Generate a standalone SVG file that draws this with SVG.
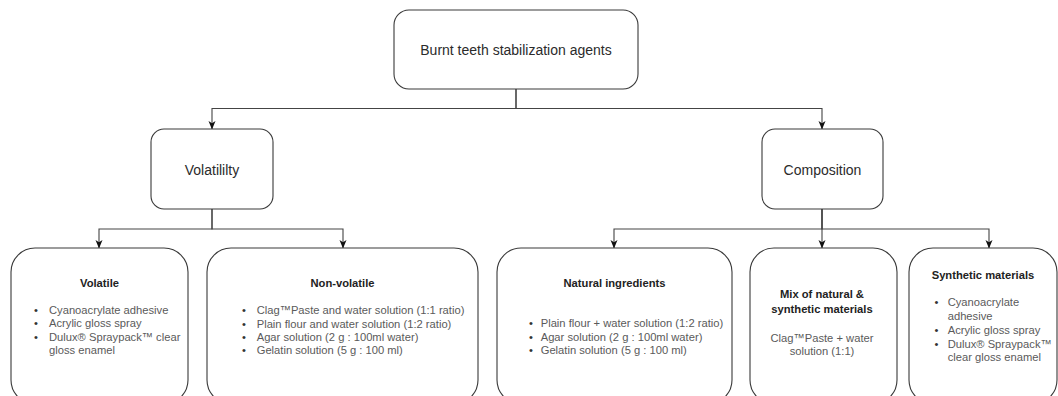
<svg xmlns="http://www.w3.org/2000/svg" width="1058" height="396" viewBox="0 0 1058 396">
<defs>
<marker id="arr" markerWidth="9" markerHeight="8" refX="8" refY="4" orient="auto" markerUnits="userSpaceOnUse">
<path d="M0,0.5 L8.5,4 L0,7.5 L2.2,4 z" fill="#111"/>
</marker>
<style>
.box{fill:#fff;stroke:#3a3a3a;stroke-width:1.1}
.lbl{font-family:"Liberation Sans",Arial,sans-serif;font-size:14px;fill:#2b2b2b;text-anchor:middle}
.ttl{font-family:"Liberation Sans",Arial,sans-serif;font-size:11.2px;font-weight:bold;fill:#222;text-anchor:middle}
.itm{font-family:"Liberation Sans",Arial,sans-serif;font-size:11.2px;fill:#5a5a5a}
.itc{font-family:"Liberation Sans",Arial,sans-serif;font-size:11.2px;fill:#5a5a5a;text-anchor:middle}
.bul{font-family:"Liberation Sans",Arial,sans-serif;font-size:11.2px;fill:#333}
.con{fill:none;stroke:#444;stroke-width:1.1;marker-end:url(#arr)}
</style>
</defs>
<g id="connectors">
<path class="con" d="M516,89 V108.5 H212 V129"/>
<path class="con" d="M516,89 V108.5 H822 V129"/>
<path class="con" d="M212,209 V229 H99 V248"/>
<path class="con" d="M212,209 V229 H343 V248"/>
<path class="con" d="M822,209 V229 H614 V248"/>
<path class="con" d="M822,209 V248"/>
<path class="con" d="M822,209 V229 H989 V248"/>
</g>
<g id="root">
<rect class="box" x="394" y="10" width="244" height="79" rx="15"/>
<text class="lbl" x="516" y="55">Burnt teeth stabilization agents</text>
</g>
<g id="volatility">
<rect class="box" x="151" y="129" width="122" height="80" rx="13"/>
<text class="lbl" x="212" y="175">Volatililty</text>
</g>
<g id="composition">
<rect class="box" x="762" y="129" width="121" height="80" rx="13"/>
<text class="lbl" x="822.5" y="175">Composition</text>
</g>
<g id="volatile">
<rect class="box" x="11" y="248" width="177" height="156" rx="24"/>
<text class="ttl" x="99.5" y="286.7">Volatile</text>
<text class="bul" x="34" y="313.8">•</text><text class="itm" x="49" y="313.8">Cyanoacrylate adhesive</text>
<text class="bul" x="34" y="327.2">•</text><text class="itm" x="49" y="327.2">Acrylic gloss spray</text>
<text class="bul" x="34" y="340.6">•</text><text class="itm" x="49" y="340.6">Dulux® Spraypack™ clear</text>
<text class="itm" x="49" y="354">gloss enamel</text>
</g>
<g id="non-volatile">
<rect class="box" x="207" y="248" width="271" height="156" rx="24"/>
<text class="ttl" x="342.5" y="286.7">Non-volatile</text>
<text class="bul" x="242" y="314.3">•</text><text class="itm" x="256.7" y="314.3">Clag™Paste and water solution (1:1 ratio)</text>
<text class="bul" x="242" y="327.6">•</text><text class="itm" x="256.7" y="327.6">Plain flour and water solution (1:2 ratio)</text>
<text class="bul" x="242" y="341">•</text><text class="itm" x="256.7" y="341">Agar solution (2 g : 100ml water)</text>
<text class="bul" x="242" y="354.3">•</text><text class="itm" x="256.7" y="354.3">Gelatin solution (5 g : 100 ml)</text>
</g>
<g id="natural">
<rect class="box" x="497" y="248" width="235" height="156" rx="24"/>
<text class="ttl" x="614.5" y="286.7">Natural ingredients</text>
<text class="bul" x="529" y="326.7">•</text><text class="itm" x="540.7" y="326.7">Plain flour + water solution (1:2 ratio)</text>
<text class="bul" x="529" y="340.5">•</text><text class="itm" x="540.7" y="340.5">Agar solution (2 g : 100ml water)</text>
<text class="bul" x="529" y="354.2">•</text><text class="itm" x="540.7" y="354.2">Gelatin solution (5 g : 100 ml)</text>
</g>
<g id="mix">
<rect class="box" x="750" y="248" width="147" height="156" rx="24"/>
<text class="ttl" x="822" y="297.5">Mix of natural &amp;</text>
<text class="ttl" x="822" y="313.2">synthetic materials</text>
<text class="itc" x="822" y="342">Clag™Paste + water</text>
<text class="itc" x="822" y="355.3">solution (1:1)</text>
</g>
<g id="synthetic">
<rect class="box" x="909" y="248" width="148" height="156" rx="24"/>
<text class="ttl" x="983" y="279.3">Synthetic materials</text>
<text class="bul" x="934.5" y="306.2">•</text><text class="itm" x="947.7" y="306.2">Cyanoacrylate</text>
<text class="itm" x="947.7" y="319.8">adhesive</text>
<text class="bul" x="934.5" y="334">•</text><text class="itm" x="947.7" y="334">Acrylic gloss spray</text>
<text class="bul" x="934.5" y="347.6">•</text><text class="itm" x="947.7" y="347.6">Dulux® Spraypack™</text>
<text class="itm" x="947.7" y="361.4">clear gloss enamel</text>
</g>
</svg>
